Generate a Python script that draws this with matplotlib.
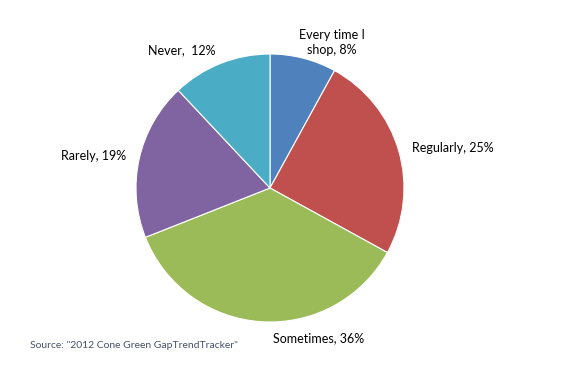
import numpy as np
import matplotlib
matplotlib.use("Agg")
import matplotlib.pyplot as plt

categories = ["Every time I\nshop", "Regularly", "Sometimes", "Rarely", "Never"]
values = [8, 25, 36, 19, 12]
label_texts = ["Every time I\nshop, 8%", "Regularly, 25%", "Sometimes, 36%", "Rarely, 19%", "Never,  12%"]
colors = ["#4F81BD", "#C0504D", "#9BBB59", "#8064A2", "#4BACC6"]
source = 'Source: "2012 Cone Green GapTrendTracker"'

plt.rcParams['font.family'] = ['Lato', 'DejaVu Sans']

W, H = 576, 389
fig = plt.figure(figsize=(W / 100, H / 100), dpi=100)
cx, cy, R = 270, 188, 134
ax = fig.add_axes([(cx - R) / W, (H - cy - R) / H, 2 * R / W, 2 * R / H])
wedges, _ = ax.pie(values, colors=colors, startangle=90, counterclock=False,
                   wedgeprops=dict(edgecolor="white", linewidth=0.8))
ax.set_xlim(-1, 1)
ax.set_ylim(-1, 1)
ax.set_aspect("equal")
ax.axis("off")

dists = [1.12, 1.08, 1.12, 1.10, 1.11]
has = ["left", "left", "left", "right", "right"]
dx = [-0.06, 0.02, 0.09, 0.0, 0.0]
for w, txt, d, ha, ox in zip(wedges, label_texts, dists, has, dx):
    ang = np.deg2rad((w.theta1 + w.theta2) / 2)
    x = d * np.cos(ang) + ox
    y = d * np.sin(ang)
    ax.text(x, y, txt, ha=ha, va="center", fontsize=9, color="black", clip_on=False,
            multialignment="center", linespacing=1.3)

fig.text(30 / W, 1 - 345 / H, source, fontsize=7.5, color="#44546A", va="center", ha="left")

fig.savefig("out.png", dpi=100)
